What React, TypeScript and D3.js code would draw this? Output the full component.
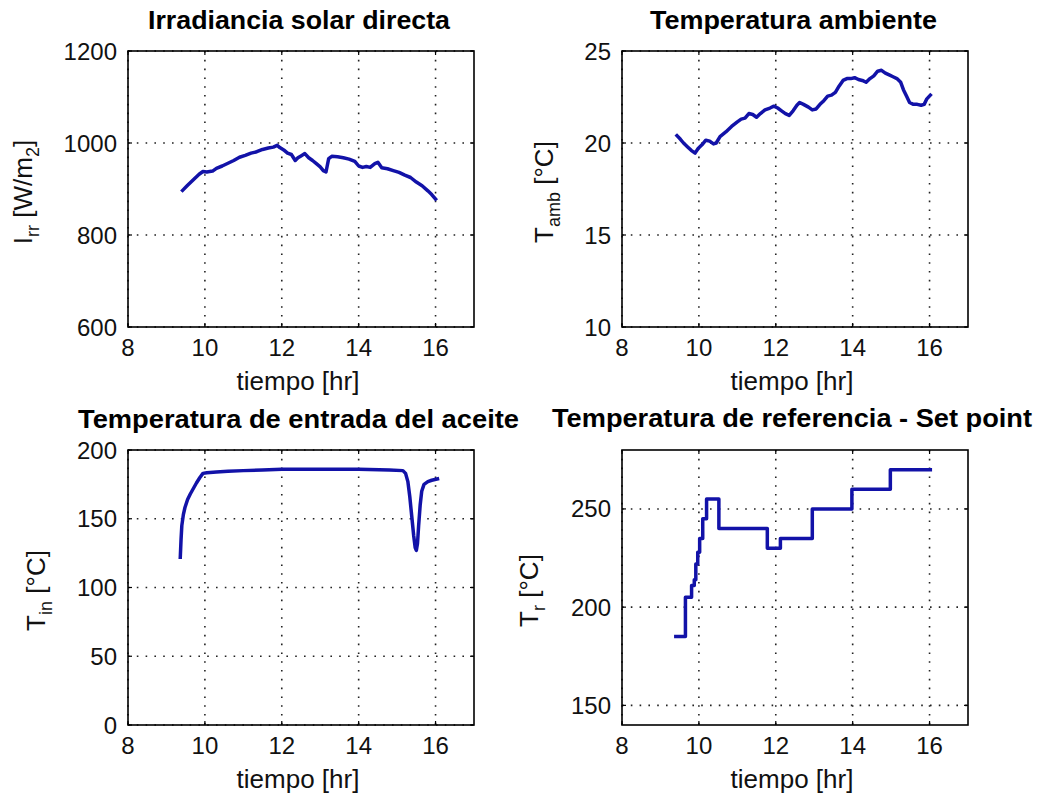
import React from "react";
import * as d3 from "d3";

// ---------- DATA ----------
const xTicks = [8, 10, 12, 14, 16];

// Irradiancia solar directa
const irrTime = [9.42, 9.55, 9.7, 9.85, 9.95, 10.05, 10.2, 10.3, 10.45, 10.6, 10.75, 10.9, 11.05, 11.2, 11.35, 11.5, 11.65, 11.78, 11.88, 11.95, 12.05, 12.15, 12.25, 12.35, 12.42, 12.5, 12.6, 12.7, 12.8, 12.9, 13.0, 13.08, 13.15, 13.22, 13.3, 13.45, 13.6, 13.75, 13.9, 14.0, 14.1, 14.2, 14.3, 14.42, 14.5, 14.6, 14.75, 14.9, 15.05, 15.2, 15.35, 15.5, 15.65, 15.8, 15.9, 16.0];
const irrValue = [897, 908, 920, 932, 938, 937, 939, 945, 950, 956, 962, 969, 973, 978, 981, 986, 989, 991, 995, 990, 985, 978, 975, 962, 968, 972, 977, 968, 962, 955, 948, 940, 937, 966, 971, 970, 968, 965, 960, 950, 947, 949, 947, 955, 958, 946, 944, 940, 936, 930, 925, 915, 907, 896, 888, 878];
const irrTicks = [600, 800, 1000, 1200];

// Temperatura ambiente
const ambTime = [9.43, 9.52, 9.6, 9.7, 9.8, 9.9, 9.98, 10.08, 10.18, 10.28, 10.38, 10.45, 10.55, 10.7, 10.85, 11.0, 11.1, 11.2, 11.3, 11.4, 11.5, 11.6, 11.72, 11.85, 11.95, 12.05, 12.15, 12.25, 12.35, 12.45, 12.55, 12.62, 12.72, 12.85, 12.95, 13.05, 13.15, 13.25, 13.35, 13.45, 13.55, 13.65, 13.75, 13.85, 13.95, 14.05, 14.15, 14.25, 14.35, 14.45, 14.55, 14.65, 14.75, 14.85, 14.95, 15.05, 15.15, 15.25, 15.32, 15.4, 15.48, 15.58, 15.68, 15.78, 15.86, 15.93, 16.02];
const ambValue = [20.4, 20.2, 20.0, 19.8, 19.6, 19.45, 19.7, 19.9, 20.15, 20.1, 19.95, 20.0, 20.35, 20.6, 20.9, 21.15, 21.3, 21.35, 21.6, 21.55, 21.4, 21.6, 21.8, 21.9, 22.0, 21.9, 21.75, 21.6, 21.5, 21.75, 22.05, 22.2, 22.1, 21.95, 21.8, 21.85, 22.1, 22.3, 22.55, 22.6, 22.75, 23.1, 23.4, 23.5, 23.5, 23.55, 23.45, 23.4, 23.3, 23.5, 23.65, 23.9, 23.95, 23.8, 23.7, 23.6, 23.5, 23.3, 22.9, 22.55, 22.2, 22.1, 22.1, 22.05, 22.1, 22.4, 22.6];
const ambTicks = [10, 15, 20, 25];

// Temperatura de entrada del aceite
const inTime = [9.36, 9.38, 9.4, 9.44, 9.48, 9.55, 9.62, 9.7, 9.78, 9.87, 9.95, 10.05, 10.3, 10.6, 11.0, 11.5, 12.0, 13.0, 14.0, 14.8, 15.15, 15.22, 15.28, 15.33, 15.38, 15.43, 15.47, 15.5, 15.53, 15.56, 15.6, 15.64, 15.7, 15.8, 15.9, 16.05];
const inValue = [122, 135, 145, 153, 158, 164, 168, 172, 176, 180, 183, 183.5, 184, 184.5, 185, 185.5, 186, 186, 186, 185.5, 185, 183, 177, 166, 152, 138, 129, 127, 132, 145, 160, 170, 175, 177, 178, 179];
const inTicks = [0, 50, 100, 150, 200];

// Temperatura de referencia - Set point (step)
const refTime = [9.4, 9.65, 9.81, 9.88, 9.92, 9.97, 10.02, 10.1, 10.2, 10.52, 11.78, 12.12, 12.95, 13.98, 14.98, 16.02];
const refValue = [185, 205, 211, 214, 222, 228, 235, 245, 255, 240, 230, 235, 250, 260, 270, 270];
const refTicks = [150, 200, 250];

// ---------- LAYOUT ----------
type Panel = {
  title: string;
  titleWidth: number;
  titleX: number;
  titleY: number;
  left: number; right: number; top: number; bottom: number;
  yDomain: [number, number];
  yTicks: number[];
  time: number[];
  values: number[];
  step?: boolean;
  ylabel: { main: string; sub: string; mid: string; sub2?: string; end?: string };
  ylabelX: number;
};

const panels: Panel[] = [
  {
    title: "Irradiancia solar directa", titleWidth: 302, titleX: 299, titleY: 29,
    left: 128, right: 474, top: 51, bottom: 327,
    yDomain: [600, 1200], yTicks: irrTicks, time: irrTime, values: irrValue,
    ylabel: { main: "I", sub: "rr", mid: " [W/m", sub2: "2", end: "]" }, ylabelX: 32,
  },
  {
    title: "Temperatura ambiente", titleWidth: 287, titleX: 793.5, titleY: 29,
    left: 622, right: 968, top: 51, bottom: 327,
    yDomain: [10, 25], yTicks: ambTicks, time: ambTime, values: ambValue,
    ylabel: { main: "T", sub: "amb", mid: " [°C]" }, ylabelX: 553,
  },
  {
    title: "Temperatura de entrada del aceite", titleWidth: 441, titleX: 298.5, titleY: 428,
    left: 128, right: 474, top: 450, bottom: 725,
    yDomain: [0, 200], yTicks: inTicks, time: inTime, values: inValue,
    ylabel: { main: "T", sub: "in", mid: " [°C]" }, ylabelX: 45,
  },
  {
    title: "Temperatura de referencia - Set point", titleWidth: 480, titleX: 792, titleY: 427,
    left: 622, right: 968, top: 450, bottom: 725,
    yDomain: [140, 280], yTicks: refTicks, time: refTime, values: refValue, step: true,
    ylabel: { main: "T", sub: "r", mid: " [°C]" }, ylabelX: 538,
  },
];

const FONT = "'Liberation Sans', Arial, Helvetica, sans-serif";
const LINE_COLOR = "#1212a8";

function Subplot({ p }: { p: Panel }) {
  const x = d3.scaleLinear().domain([8, 17]).range([p.left, p.right]);
  const y = d3.scaleLinear().domain(p.yDomain).range([p.bottom, p.top]);
  const pts = p.time.map((t, i) => [t, p.values[i]] as [number, number]);
  const line = d3
    .line<[number, number]>()
    .x((d) => x(d[0]))
    .y((d) => y(d[1]))
    .curve(p.step ? d3.curveStepAfter : d3.curveLinear);
  const cy = (p.top + p.bottom) / 2 + 3;
  const cx = (p.left + p.right) / 2 - 3;
  const tickLen = 4;
  return (
    <g>
      {/* grid */}
      {xTicks.map((t) => (
        <line key={"gx" + t} x1={x(t)} x2={x(t)} y1={p.top} y2={p.bottom}
          stroke="#222" strokeWidth={1.6} strokeDasharray="1.6,7.2" />
      ))}
      {p.yTicks.map((t) => (
        <line key={"gy" + t} x1={p.left} x2={p.right} y1={y(t)} y2={y(t)}
          stroke="#222" strokeWidth={1.6} strokeDasharray="1.6,7.2" />
      ))}
      {/* data */}
      <path d={line(pts) || ""} fill="none" stroke={LINE_COLOR} strokeWidth={3.5}
        strokeLinejoin="round" strokeLinecap="square" />
      {/* box */}
      <rect x={p.left} y={p.top} width={p.right - p.left} height={p.bottom - p.top}
        fill="none" stroke="#000" strokeWidth={1.6} />
      {/* ticks inward */}
      {xTicks.map((t) => (
        <g key={"tx" + t}>
          <line x1={x(t)} x2={x(t)} y1={p.bottom} y2={p.bottom - tickLen} stroke="#000" strokeWidth={1.2} />
          <line x1={x(t)} x2={x(t)} y1={p.top} y2={p.top + tickLen} stroke="#000" strokeWidth={1.2} />
        </g>
      ))}
      {p.yTicks.map((t) => (
        <g key={"ty" + t}>
          <line x1={p.left} x2={p.left + tickLen} y1={y(t)} y2={y(t)} stroke="#000" strokeWidth={1.2} />
          <line x1={p.right} x2={p.right - tickLen} y1={y(t)} y2={y(t)} stroke="#000" strokeWidth={1.2} />
        </g>
      ))}
      {/* tick labels */}
      {xTicks.map((t) => (
        <text key={"lx" + t} x={x(t)} y={p.bottom + 29} textAnchor="middle"
          fontSize={24} fontFamily={FONT} fill="#111">{t}</text>
      ))}
      {p.yTicks.map((t) => (
        <text key={"ly" + t} x={p.left - 11} y={y(t) + 8.5} textAnchor="end"
          fontSize={24} fontFamily={FONT} fill="#111">{t}</text>
      ))}
      {/* x label */}
      <text x={cx} y={p.bottom + 63} textAnchor="middle" fontSize={26} fontFamily={FONT} fill="#111">
        tiempo [hr]
      </text>
      {/* y label */}
      <text transform={`translate(${p.ylabelX},${cy}) rotate(-90)`} textAnchor="middle"
        fontSize={26} fontFamily={FONT} fill="#111">
        {p.ylabel.main}
        <tspan fontSize={18} dy={7}>{p.ylabel.sub}</tspan>
        <tspan dy={-7}>{p.ylabel.mid}</tspan>
        {p.ylabel.sub2 ? <tspan fontSize={18} dy={7}>{p.ylabel.sub2}</tspan> : null}
        {p.ylabel.end ? <tspan dy={-7}>{p.ylabel.end}</tspan> : null}
      </text>
      {/* title */}
      <text x={p.titleX} y={p.titleY} textAnchor="middle" fontSize={25} fontWeight="bold"
        fontFamily={FONT} fill="#000" textLength={p.titleWidth} lengthAdjust="spacingAndGlyphs">
        {p.title}
      </text>
    </g>
  );
}

export default function App() {
  return (
    <svg width={1040} height={799} viewBox="0 0 1040 799"
      style={{ position: "absolute", left: 0, top: 0, background: "#fff" }}>
      <rect x={0} y={0} width={1040} height={799} fill="#fff" />
      {panels.map((p, i) => (
        <Subplot key={i} p={p} />
      ))}
    </svg>
  );
}
